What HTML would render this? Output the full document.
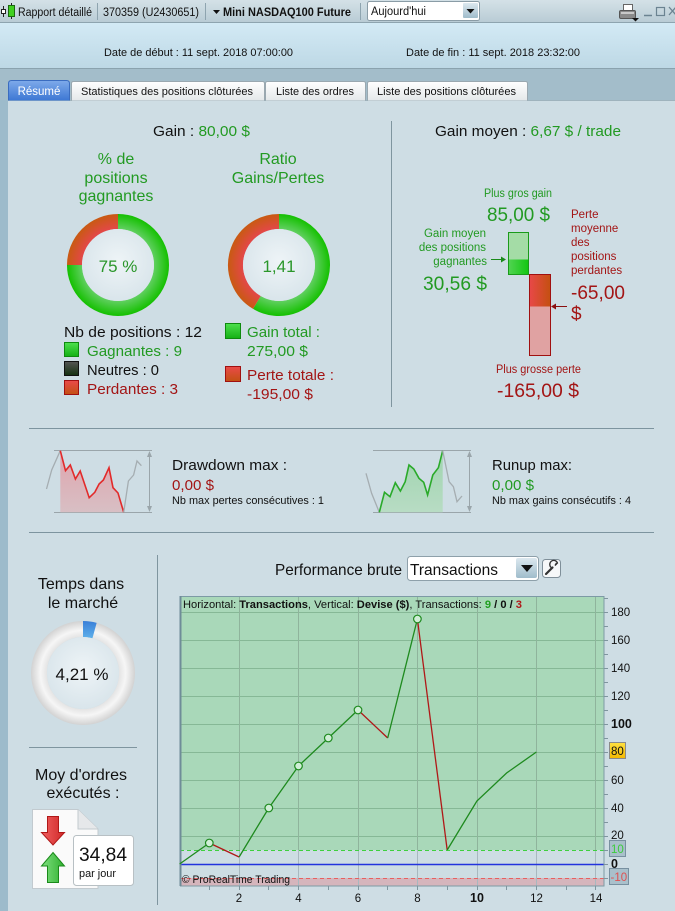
<!DOCTYPE html>
<html><head><meta charset="utf-8"><style>
html,body{margin:0;padding:0;width:675px;height:911px;overflow:hidden;background:#cedde4}
svg{display:block;font-family:"Liberation Sans",Arial,sans-serif}
</style></head><body>
<svg width="675" height="911" viewBox="0 0 675 911" xmlns="http://www.w3.org/2000/svg">
<defs>
 <linearGradient id="tb" x1="0" y1="0" x2="0" y2="1"><stop offset="0" stop-color="#d4e1e7"/><stop offset="1" stop-color="#b9ccd5"/></linearGradient>
 <linearGradient id="hd" x1="0" y1="0" x2="0" y2="1"><stop offset="0" stop-color="#d3eaf5"/><stop offset="1" stop-color="#bdd8e5"/></linearGradient>
 <linearGradient id="tabA" x1="0" y1="0" x2="0" y2="1"><stop offset="0" stop-color="#7eaaea"/><stop offset="1" stop-color="#3d77d4"/></linearGradient>
 <linearGradient id="tabB" x1="0" y1="0" x2="0" y2="1"><stop offset="0" stop-color="#ffffff"/><stop offset="1" stop-color="#e4e8ea"/></linearGradient>
 <linearGradient id="btn" x1="0" y1="0" x2="0" y2="1"><stop offset="0" stop-color="#dce8ef"/><stop offset="1" stop-color="#9fbccb"/></linearGradient>
 <radialGradient id="gg1" gradientUnits="userSpaceOnUse" cx="118" cy="265" r="51"><stop offset="0.7" stop-color="#62d062"/><stop offset="1" stop-color="#14c000"/></radialGradient>
 <radialGradient id="gr1" gradientUnits="userSpaceOnUse" cx="118" cy="265" r="51"><stop offset="0.7" stop-color="#e4474a"/><stop offset="1" stop-color="#c85a12"/></radialGradient>
 <radialGradient id="gg2" gradientUnits="userSpaceOnUse" cx="279" cy="265" r="51"><stop offset="0.7" stop-color="#62d062"/><stop offset="1" stop-color="#14c000"/></radialGradient>
 <radialGradient id="gr2" gradientUnits="userSpaceOnUse" cx="279" cy="265" r="51"><stop offset="0.7" stop-color="#e4474a"/><stop offset="1" stop-color="#c85a12"/></radialGradient>
 <radialGradient id="inner" cx="0.5" cy="0.45" r="0.55"><stop offset="0" stop-color="#eef4f7"/><stop offset="1" stop-color="#d9e5eb"/></radialGradient>
 <radialGradient id="gring" gradientUnits="userSpaceOnUse" cx="83" cy="673" r="52"><stop offset="0.68" stop-color="#e2e2e2"/><stop offset="0.82" stop-color="#f6f6f6"/><stop offset="1" stop-color="#d2d2d2"/></radialGradient>
 <linearGradient id="blue" x1="0" y1="0" x2="0" y2="1"><stop offset="0" stop-color="#3a7fd8"/><stop offset="1" stop-color="#5fb0ea"/></linearGradient>
 <linearGradient id="sqG" x1="0" y1="0" x2="0" y2="1"><stop offset="0" stop-color="#4ee04e"/><stop offset="1" stop-color="#14b014"/></linearGradient>
 <linearGradient id="sqK" x1="0" y1="0" x2="0" y2="1"><stop offset="0" stop-color="#555"/><stop offset="1" stop-color="#14300f"/></linearGradient>
 <linearGradient id="sqR" x1="0" y1="0" x2="0" y2="1"><stop offset="0" stop-color="#ea4a4a"/><stop offset="1" stop-color="#c25012"/></linearGradient>
 <linearGradient id="barG" x1="0" y1="0" x2="1" y2="0"><stop offset="0" stop-color="#52d452"/><stop offset="1" stop-color="#12c612"/></linearGradient>
 <linearGradient id="barR" x1="0" y1="0" x2="1" y2="0"><stop offset="0" stop-color="#e84848"/><stop offset="1" stop-color="#c45010"/></linearGradient>
 <linearGradient id="ddF" x1="0" y1="0" x2="0" y2="1"><stop offset="0" stop-color="#dfa4ad"/><stop offset="1" stop-color="#d8bfc4"/></linearGradient>
 <linearGradient id="ruF" x1="0" y1="0" x2="0" y2="1"><stop offset="0" stop-color="#9ed4ae"/><stop offset="1" stop-color="#b8dcc4"/></linearGradient>
 <linearGradient id="yel" x1="0" y1="0" x2="0" y2="1"><stop offset="0" stop-color="#ffe040"/><stop offset="1" stop-color="#f4b800"/></linearGradient>
 <linearGradient id="arR" x1="0" y1="0" x2="1" y2="0"><stop offset="0" stop-color="#f06060"/><stop offset="1" stop-color="#d02828"/></linearGradient>
 <linearGradient id="arG" x1="0" y1="0" x2="1" y2="0"><stop offset="0" stop-color="#80e080"/><stop offset="1" stop-color="#30b030"/></linearGradient>
</defs>

<!-- backgrounds -->
<rect x="0" y="0" width="675" height="911" fill="#cedde4"/>
<rect x="0" y="0" width="675" height="22" fill="url(#tb)"/>
<line x1="0" y1="22.5" x2="675" y2="22.5" stroke="#8ea4af"/>
<rect x="0" y="23" width="675" height="45" fill="url(#hd)"/>
<line x1="0" y1="68.5" x2="675" y2="68.5" stroke="#8aa2ae"/>
<rect x="0" y="69" width="675" height="31" fill="#a3bdca"/>
<rect x="0" y="100" width="8" height="811" fill="#9dbbcb"/>
<line x1="8" y1="100.5" x2="675" y2="100.5" stroke="#9fb3bd"/>

<!-- toolbar -->
<line x1="3.5" y1="6" x2="3.5" y2="17" stroke="#222"/>
<rect x="1.5" y="9.5" width="4" height="4" fill="#fff" stroke="#222"/>
<line x1="11.5" y1="3" x2="11.5" y2="19" stroke="#222"/>
<rect x="8.5" y="5.5" width="6" height="11" fill="#40d020" stroke="#1a6a10"/>
<text x="18" y="16" font-size="11.5" fill="#111" textLength="74" lengthAdjust="spacingAndGlyphs">Rapport détaillé</text>
<line x1="97.5" y1="3" x2="97.5" y2="20" stroke="#8ea4af"/>
<text x="103" y="16" font-size="11.5" fill="#111" textLength="96" lengthAdjust="spacingAndGlyphs">370359 (U2430651)</text>
<line x1="205.5" y1="3" x2="205.5" y2="20" stroke="#8ea4af"/>
<path d="M213 10 L220 10 L216.5 14 Z" fill="#111"/>
<text x="223" y="16" font-size="11.5" font-weight="bold" fill="#111" textLength="128" lengthAdjust="spacingAndGlyphs">Mini NASDAQ100 Future</text>
<line x1="360.5" y1="3" x2="360.5" y2="20" stroke="#8ea4af"/>
<rect x="367.5" y="1.5" width="112" height="19" rx="2" fill="#fff" stroke="#8a9ca6"/>
<text x="371" y="15" font-size="11.5" fill="#111" textLength="55" lengthAdjust="spacingAndGlyphs">Aujourd'hui</text>
<rect x="463" y="3" width="15" height="15" rx="1" fill="url(#btn)"/>
<path d="M466.5 9 L474.5 9 L470.5 13.5 Z" fill="#111"/>
<!-- printer -->
<rect x="623.5" y="4.5" width="9" height="6" fill="#fff" stroke="#666"/>
<rect x="619.5" y="10.5" width="16" height="8" rx="1.5" fill="#8a8a8a" stroke="#555"/>
<rect x="621" y="12" width="13" height="2" fill="#c8c8c8"/>
<path d="M632 18 L639 18 L635.5 21.5 Z" fill="#111"/>
<line x1="644" y1="15.5" x2="652" y2="15.5" stroke="#6b8391" stroke-width="1.5"/>
<rect x="656.5" y="7.5" width="8" height="8" fill="none" stroke="#6b8391" stroke-width="1.2"/>
<path d="M669 7 L676 15 M676 7 L669 15" stroke="#6b8391" stroke-width="1.3"/>

<!-- header dates -->
<text x="104" y="56" font-size="11" fill="#111" textLength="189" lengthAdjust="spacingAndGlyphs">Date de début : 11 sept. 2018 07:00:00</text>
<text x="406" y="56" font-size="11" fill="#111" textLength="174" lengthAdjust="spacingAndGlyphs">Date de fin : 11 sept. 2018 23:32:00</text>

<!-- tabs -->
<path d="M8.5 100.5 V83.5 Q8.5 80.5 11.5 80.5 H66.5 Q69.5 80.5 69.5 83.5 V100.5" fill="url(#tabA)" stroke="#3a6cc0"/>
<text x="39" y="95" font-size="11.5" fill="#fff" text-anchor="middle">Résumé</text>
<path d="M71.5 100.5 V83.5 Q71.5 81.5 73.5 81.5 H262.5 Q264.5 81.5 264.5 83.5 V100.5" fill="url(#tabB)" stroke="#9aa8b0"/>
<text x="81" y="95" font-size="11" fill="#111" textLength="172" lengthAdjust="spacingAndGlyphs">Statistiques des positions clôturées</text>
<path d="M265.5 100.5 V83.5 Q265.5 81.5 267.5 81.5 H363.5 Q365.5 81.5 365.5 83.5 V100.5" fill="url(#tabB)" stroke="#9aa8b0"/>
<text x="276" y="95" font-size="11" fill="#111" textLength="78" lengthAdjust="spacingAndGlyphs">Liste des ordres</text>
<path d="M367.5 100.5 V83.5 Q367.5 81.5 369.5 81.5 H525.5 Q527.5 81.5 527.5 83.5 V100.5" fill="url(#tabB)" stroke="#9aa8b0"/>
<text x="377" y="95" font-size="11" fill="#111" textLength="139" lengthAdjust="spacingAndGlyphs">Liste des positions clôturées</text>

<!-- ===== Summary left ===== -->
<text x="153" y="136" font-size="15" fill="#111" textLength="97" lengthAdjust="spacingAndGlyphs">Gain : <tspan fill="#229a22">80,00 $</tspan></text>
<g font-size="16" fill="#229a22" text-anchor="middle">
 <text x="116" y="164">% de</text>
 <text x="116" y="183">positions</text>
 <text x="116" y="201">gagnantes</text>
 <text x="278" y="164">Ratio</text>
 <text x="278" y="183">Gains/Pertes</text>
</g>
<!-- donut 1 -->
<path d="M118 221.5 A43.5 43.5 0 1 1 74.5 265" fill="none" stroke="url(#gg1)" stroke-width="15"/>
<path d="M74.5 265 A43.5 43.5 0 0 1 118 221.5" fill="none" stroke="url(#gr1)" stroke-width="15"/>
<circle cx="118" cy="265" r="36" fill="url(#inner)"/>
<text x="118" y="272" font-size="17" fill="#2a962a" text-anchor="middle">75 %</text>
<!-- donut 2 -->
<path d="M279 221.5 A43.5 43.5 0 1 1 256.86 302.45" fill="none" stroke="url(#gg2)" stroke-width="15"/>
<path d="M256.86 302.45 A43.5 43.5 0 0 1 279 221.5" fill="none" stroke="url(#gr2)" stroke-width="15"/>
<circle cx="279" cy="265" r="36" fill="url(#inner)"/>
<text x="279" y="272" font-size="17" fill="#2a962a" text-anchor="middle">1,41</text>

<text x="64" y="337" font-size="15" fill="#111" textLength="138" lengthAdjust="spacingAndGlyphs">Nb de positions : 12</text>
<rect x="64.5" y="342.5" width="14" height="14" fill="url(#sqG)" stroke="#0e8a0e"/>
<text x="87" y="356" font-size="15" fill="#229a22" textLength="95" lengthAdjust="spacingAndGlyphs">Gagnantes : 9</text>
<rect x="64.5" y="361.5" width="14" height="14" fill="url(#sqK)" stroke="#111"/>
<text x="87" y="375" font-size="15" fill="#111" textLength="72" lengthAdjust="spacingAndGlyphs">Neutres : 0</text>
<rect x="64.5" y="380.5" width="14" height="14" fill="url(#sqR)" stroke="#a01010"/>
<text x="87" y="394" font-size="15" fill="#a31515" textLength="91" lengthAdjust="spacingAndGlyphs">Perdantes : 3</text>

<rect x="225.5" y="323.5" width="15" height="15" fill="url(#sqG)" stroke="#0e8a0e"/>
<text x="247" y="337" font-size="15" fill="#229a22" textLength="73" lengthAdjust="spacingAndGlyphs">Gain total :</text>
<text x="247" y="356" font-size="15" fill="#229a22" textLength="61" lengthAdjust="spacingAndGlyphs">275,00 $</text>
<rect x="225.5" y="366.5" width="15" height="15" fill="url(#sqR)" stroke="#a01010"/>
<text x="247" y="380" font-size="15" fill="#a31515" textLength="87" lengthAdjust="spacingAndGlyphs">Perte totale :</text>
<text x="247" y="399" font-size="15" fill="#a31515" textLength="66" lengthAdjust="spacingAndGlyphs">-195,00 $</text>

<line x1="391.5" y1="121" x2="391.5" y2="407" stroke="#7f959f"/>

<!-- ===== Summary right ===== -->
<text x="435" y="136" font-size="15" fill="#111" textLength="186" lengthAdjust="spacingAndGlyphs">Gain moyen : <tspan fill="#229a22">6,67 $ / trade</tspan></text>
<text x="484" y="197" font-size="11.5" fill="#229a22" textLength="68" lengthAdjust="spacingAndGlyphs">Plus gros gain</text>
<text x="487" y="221" font-size="19" fill="#229a22" textLength="63" lengthAdjust="spacingAndGlyphs">85,00 $</text>
<g font-size="11.5" fill="#229a22" text-anchor="end">
 <text x="486" y="237">Gain moyen</text>
 <text x="486" y="251">des positions</text>
 <text x="487" y="265">gagnantes</text>
</g>
<text x="423" y="290" font-size="19" fill="#229a22" textLength="64" lengthAdjust="spacingAndGlyphs">30,56 $</text>
<line x1="491" y1="259.5" x2="503" y2="259.5" stroke="#1a8a1a"/>
<path d="M506 259.5 L501 256.5 L501 262.5 Z" fill="#1a8a1a"/>

<rect x="508.5" y="232.5" width="20" height="27" fill="#a4dca6"/>
<rect x="508.5" y="259.5" width="20" height="15" fill="url(#barG)"/>
<rect x="508.5" y="232.5" width="20" height="42" fill="none" stroke="#1a9a1a"/>
<rect x="529.5" y="274.5" width="21" height="32" fill="url(#barR)"/>
<rect x="529.5" y="306.5" width="21" height="49" fill="#e0a2a2"/>
<rect x="529.5" y="274.5" width="21" height="81" fill="none" stroke="#a01010"/>
<line x1="554" y1="306.5" x2="567" y2="306.5" stroke="#8a1010"/>
<path d="M551 306.5 L556 303.5 L556 309.5 Z" fill="#8a1010"/>

<g font-size="11.5" fill="#a31515">
 <text x="571" y="218">Perte</text>
 <text x="571" y="232">moyenne</text>
 <text x="571" y="246">des</text>
 <text x="571" y="260">positions</text>
 <text x="571" y="274">perdantes</text>
</g>
<text x="571" y="299" font-size="19" fill="#a31515" textLength="54" lengthAdjust="spacingAndGlyphs">-65,00</text>
<text x="571" y="320" font-size="19" fill="#a31515">$</text>
<text x="496" y="373" font-size="11.5" fill="#a31515" textLength="85" lengthAdjust="spacingAndGlyphs">Plus grosse perte</text>
<text x="497" y="397" font-size="19" fill="#a31515" textLength="82" lengthAdjust="spacingAndGlyphs">-165,00 $</text>

<!-- ===== Drawdown / Runup ===== -->
<line x1="29" y1="428.5" x2="654" y2="428.5" stroke="#7d949f"/>
<line x1="29" y1="532.5" x2="654" y2="532.5" stroke="#7d949f"/>
<!-- drawdown mini -->
<line x1="54" y1="450.5" x2="152" y2="450.5" stroke="#9aa5aa"/>
<line x1="54" y1="512.5" x2="152" y2="512.5" stroke="#9aa5aa"/>
<path d="M60.3 450.7 L65.5 470.7 L70.3 465 L75.4 479 L80.2 471 L89.2 497.7 L94.8 492.3 L99.1 484 L103.4 480 L109 467.7 L113 487.7 L118 493 L123.7 512.3 L60.3 512.3 Z" fill="url(#ddF)"/>
<polyline points="46.5,489 51.7,470 60.3,450.7" fill="none" stroke="#a5adb1" stroke-width="1.3"/>
<polyline points="60.3,450.7 65.5,470.7 70.3,465 75.4,479 80.2,471 89.2,497.7 94.8,492.3 99.1,484 103.4,480 109,467.7 113,487.7 118,493 123.7,512.3" fill="none" stroke="#e22a2a" stroke-width="1.6"/>
<polyline points="123.7,512.3 128.4,481 133.6,475 137,461 141.4,465.7" fill="none" stroke="#a5adb1" stroke-width="1.3"/>
<line x1="149.5" y1="453" x2="149.5" y2="510" stroke="#9aa5aa"/>
<path d="M149.5 451 L147 457 L152 457 Z M149.5 512 L147 506 L152 506 Z" fill="#9aa5aa"/>
<text x="172" y="470" font-size="15" fill="#111" textLength="115" lengthAdjust="spacingAndGlyphs">Drawdown max :</text>
<text x="172" y="490" font-size="15" fill="#a31515" textLength="42" lengthAdjust="spacingAndGlyphs">0,00 $</text>
<text x="172" y="504" font-size="11" fill="#111" textLength="152" lengthAdjust="spacingAndGlyphs">Nb max pertes consécutives : 1</text>
<!-- runup mini -->
<line x1="373" y1="450.5" x2="471" y2="450.5" stroke="#9aa5aa"/>
<line x1="373" y1="512.5" x2="471" y2="512.5" stroke="#9aa5aa"/>
<path d="M379.3 512.3 L384.5 492.3 L390 496.7 L395.3 482.7 L400.4 491 L405.2 481.7 L409 465 L413.8 469 L419 478.3 L423.7 482.3 L427.6 495 L432.8 475 L438.4 467.7 L442.7 450.7 L442.7 512.3 Z" fill="url(#ruF)"/>
<polyline points="366,473.3 371.6,493.3 379.3,512.3" fill="none" stroke="#a5adb1" stroke-width="1.3"/>
<polyline points="379.3,512.3 384.5,492.3 390,496.7 395.3,482.7 400.4,491 405.2,481.7 409,465 413.8,469 419,478.3 423.7,482.3 427.6,495 432.8,475 438.4,467.7 442.7,450.7" fill="none" stroke="#2aaa2a" stroke-width="1.6"/>
<polyline points="442.7,450.7 449.1,481.7 453.4,486.7 457,501.7 462,496" fill="none" stroke="#a5adb1" stroke-width="1.3"/>
<line x1="469.5" y1="453" x2="469.5" y2="510" stroke="#9aa5aa"/>
<path d="M469.5 451 L467 457 L472 457 Z M469.5 512 L467 506 L472 506 Z" fill="#9aa5aa"/>
<text x="492" y="470" font-size="15" fill="#111" textLength="80" lengthAdjust="spacingAndGlyphs">Runup max:</text>
<text x="492" y="490" font-size="15" fill="#229a22" textLength="42" lengthAdjust="spacingAndGlyphs">0,00 $</text>
<text x="492" y="504" font-size="11" fill="#111" textLength="139" lengthAdjust="spacingAndGlyphs">Nb max gains consécutifs : 4</text>

<!-- ===== bottom left ===== -->
<line x1="157.5" y1="555" x2="157.5" y2="905" stroke="#7f959f"/>
<text x="81" y="589" font-size="16" fill="#111" text-anchor="middle">Temps dans</text>
<text x="83" y="608" font-size="16" fill="#111" text-anchor="middle">le marché</text>
<circle cx="83" cy="673" r="44" fill="none" stroke="url(#gring)" stroke-width="16"/>
<path d="M83 621 A52 52 0 0 1 96.65 622.83 L92.45 638.27 A36 36 0 0 0 83 637 Z" fill="url(#blue)"/>
<circle cx="83" cy="673" r="36" fill="url(#inner)"/>
<text x="82" y="680" font-size="17" fill="#111" text-anchor="middle">4,21 %</text>
<line x1="29" y1="747.5" x2="137" y2="747.5" stroke="#7f959f"/>
<text x="81" y="780" font-size="16" fill="#111" text-anchor="middle">Moy d'ordres</text>
<text x="83" y="798" font-size="16" fill="#111" text-anchor="middle">exécutés :</text>
<!-- document -->
<path d="M32.5 809.5 H78 L98 829 V888.5 H32.5 Z" fill="#fafafa" stroke="#c2cacf"/>
<path d="M78 809.5 V829 H98" fill="#e6e8ea" stroke="#c2cacf"/>
<path d="M47.5 816.5 H58.5 V832.5 H64.5 L53 845 L41.5 832.5 H47.5 Z" fill="url(#arR)" stroke="#b01818"/>
<path d="M53 852.5 L64.5 866 H58.5 V882.5 H47.5 V866 H41.5 Z" fill="url(#arG)" stroke="#1a8a1a"/>
<rect x="73.5" y="835.5" width="60" height="50" rx="3" fill="#fff" stroke="#b8c0c4"/>
<text x="79" y="861" font-size="19" fill="#111" textLength="48" lengthAdjust="spacingAndGlyphs">34,84</text>
<text x="79" y="877" font-size="11" fill="#111" textLength="37" lengthAdjust="spacingAndGlyphs">par jour</text>

<!-- ===== chart header ===== -->
<text x="275" y="575" font-size="16" fill="#111" textLength="127" lengthAdjust="spacingAndGlyphs">Performance brute</text>
<rect x="407.5" y="556.5" width="131" height="24" rx="3" fill="#fff" stroke="#8ea0aa"/>
<text x="410" y="575" font-size="16" fill="#111" textLength="88" lengthAdjust="spacingAndGlyphs">Transactions</text>
<rect x="516" y="558" width="21" height="20" rx="2" fill="url(#btn)"/>
<path d="M521 565 L533 565 L527 572 Z" fill="#111"/>
<rect x="542.5" y="559.5" width="18" height="18" rx="3" fill="#f6f8f9" stroke="#7f8f99"/>
<path d="M546 574 L552.5 567.5" stroke="#333" stroke-width="2.2" stroke-linecap="round"/>
<path d="M552 568 A4 4 0 1 1 557.5 563 L555 565.5 L556.5 563" fill="none" stroke="#333" stroke-width="1.3"/>

<!-- ===== chart plot ===== -->
<rect x="180" y="596" width="424" height="254" fill="#a9d8b9"/>
<rect x="180" y="850" width="424" height="28" fill="#cddde3"/>
<rect x="180" y="878" width="424" height="8" fill="#d5b5bc"/>
<g stroke="#86b896" stroke-width="1">
 <line x1="180" y1="836.5" x2="604" y2="836.5"/>
 <line x1="180" y1="808.5" x2="604" y2="808.5"/>
 <line x1="180" y1="780.5" x2="604" y2="780.5"/>
 <line x1="180" y1="752.5" x2="604" y2="752.5"/>
 <line x1="180" y1="724.5" x2="604" y2="724.5"/>
 <line x1="180" y1="696.5" x2="604" y2="696.5"/>
 <line x1="180" y1="668.5" x2="604" y2="668.5"/>
 <line x1="180" y1="640.5" x2="604" y2="640.5"/>
 <line x1="180" y1="612.5" x2="604" y2="612.5"/>
</g>
<g stroke="#8fb49c" stroke-width="1">
 <line x1="239.5" y1="596" x2="239.5" y2="850"/>
 <line x1="298.5" y1="596" x2="298.5" y2="850"/>
 <line x1="358.5" y1="596" x2="358.5" y2="850"/>
 <line x1="417.5" y1="596" x2="417.5" y2="850"/>
 <line x1="477.5" y1="596" x2="477.5" y2="850"/>
 <line x1="536.5" y1="596" x2="536.5" y2="850"/>
 <line x1="595.5" y1="596" x2="595.5" y2="850"/>
</g>
<g stroke="#a8b8bf" stroke-width="1">
 <line x1="239.5" y1="850" x2="239.5" y2="886"/>
 <line x1="298.5" y1="850" x2="298.5" y2="886"/>
 <line x1="358.5" y1="850" x2="358.5" y2="886"/>
 <line x1="417.5" y1="850" x2="417.5" y2="886"/>
 <line x1="477.5" y1="850" x2="477.5" y2="886"/>
 <line x1="536.5" y1="850" x2="536.5" y2="886"/>
 <line x1="595.5" y1="850" x2="595.5" y2="886"/>
</g>
<line x1="180" y1="850.5" x2="604" y2="850.5" stroke="#3ed03e" stroke-dasharray="4 3"/>
<line x1="180" y1="878.5" x2="604" y2="878.5" stroke="#e86060" stroke-dasharray="4 3"/>
<line x1="180" y1="864.5" x2="604" y2="864.5" stroke="#2233dd" stroke-width="1.4"/>
<rect x="180.5" y="596.5" width="423.5" height="289.5" fill="none" stroke="#7d9aa5"/>
<line x1="180.5" y1="596" x2="180.5" y2="886" stroke="#6f8c98" stroke-width="2"/>

<!-- data -->
<g fill="none" stroke-width="1.3">
 <polyline points="179.6,864 209.3,843" stroke="#1e8a1e"/>
 <polyline points="209.3,843 239.1,857" stroke="#b01818"/>
 <polyline points="239.1,857 268.8,808 298.5,766 328.3,738 358,710" stroke="#1e8a1e"/>
 <polyline points="358,710 387.7,738" stroke="#b01818"/>
 <polyline points="387.7,738 417.4,619" stroke="#1e8a1e"/>
 <polyline points="417.4,619 447.2,850" stroke="#b01818"/>
 <polyline points="447.2,850 476.9,801 506.6,773 536.4,752" stroke="#1e8a1e"/>
</g>
<g fill="#cfeed6" stroke="#1e8a1e" stroke-width="1.2">
 <circle cx="209.3" cy="843" r="3.8"/>
 <circle cx="268.8" cy="808" r="3.8"/>
 <circle cx="298.5" cy="766" r="3.8"/>
 <circle cx="328.3" cy="738" r="3.8"/>
 <circle cx="358" cy="710" r="3.8"/>
 <circle cx="417.4" cy="619" r="3.8"/>
</g>

<text x="183" y="608" font-size="11" fill="#111" textLength="339" lengthAdjust="spacingAndGlyphs">Horizontal: <tspan font-weight="bold">Transactions</tspan>, Vertical: <tspan font-weight="bold">Devise ($)</tspan>, Transactions: <tspan font-weight="bold" fill="#22a022">9</tspan><tspan font-weight="bold"> / 0 / </tspan><tspan font-weight="bold" fill="#b01818">3</tspan></text>
<text x="182" y="883" font-size="11" fill="#111" textLength="108" lengthAdjust="spacingAndGlyphs">© ProRealTime Trading</text>

<!-- y axis -->
<g stroke="#7f959f" stroke-width="1">
 <line x1="604" y1="598.5" x2="608" y2="598.5"/>
 <line x1="604" y1="612.5" x2="608" y2="612.5"/>
 <line x1="604" y1="626.5" x2="608" y2="626.5"/>
 <line x1="604" y1="640.5" x2="608" y2="640.5"/>
 <line x1="604" y1="654.5" x2="608" y2="654.5"/>
 <line x1="604" y1="668.5" x2="608" y2="668.5"/>
 <line x1="604" y1="682.5" x2="608" y2="682.5"/>
 <line x1="604" y1="696.5" x2="608" y2="696.5"/>
 <line x1="604" y1="710.5" x2="608" y2="710.5"/>
 <line x1="604" y1="724.5" x2="608" y2="724.5"/>
 <line x1="604" y1="738.5" x2="608" y2="738.5"/>
 <line x1="604" y1="752.5" x2="608" y2="752.5"/>
 <line x1="604" y1="766.5" x2="608" y2="766.5"/>
 <line x1="604" y1="780.5" x2="608" y2="780.5"/>
 <line x1="604" y1="794.5" x2="608" y2="794.5"/>
 <line x1="604" y1="808.5" x2="608" y2="808.5"/>
 <line x1="604" y1="822.5" x2="608" y2="822.5"/>
 <line x1="604" y1="836.5" x2="608" y2="836.5"/>
 <line x1="604" y1="850.5" x2="608" y2="850.5"/>
 <line x1="604" y1="864.5" x2="608" y2="864.5"/>
 <line x1="604" y1="878.5" x2="608" y2="878.5"/>
</g>
<g font-size="11.5" fill="#111">
 <text x="611" y="616">180</text>
 <text x="611" y="644">160</text>
 <text x="611" y="672">140</text>
 <text x="611" y="700">120</text>
 <text x="611" y="728" font-weight="bold" font-size="12.5">100</text>
 <text x="611" y="784">60</text>
 <text x="611" y="812">40</text>
 <text x="611" y="839">20</text>
 <text x="611" y="868" font-weight="bold" font-size="12.5">0</text>
</g>
<rect x="609.5" y="742.5" width="16" height="16" fill="url(#yel)" stroke="#8a8a8a"/>
<text x="611" y="755" font-size="11.5" fill="#111">80</text>
<rect x="609.5" y="840.5" width="16" height="16" fill="#a9c0cb" stroke="#7890a0"/>
<text x="611" y="853" font-size="11.5" fill="#3ccc3c">10</text>
<rect x="609.5" y="868.5" width="19" height="16" fill="#a9c0cb" stroke="#7890a0"/>
<text x="610.5" y="881" font-size="11.5" fill="#e05050">-10</text>

<!-- x axis -->
<g stroke="#7f959f">
 <line x1="209.5" y1="886" x2="209.5" y2="890"/>
 <line x1="239.5" y1="886" x2="239.5" y2="890"/>
 <line x1="268.5" y1="886" x2="268.5" y2="890"/>
 <line x1="298.5" y1="886" x2="298.5" y2="890"/>
 <line x1="328.5" y1="886" x2="328.5" y2="890"/>
 <line x1="358.5" y1="886" x2="358.5" y2="890"/>
 <line x1="387.5" y1="886" x2="387.5" y2="890"/>
 <line x1="417.5" y1="886" x2="417.5" y2="890"/>
 <line x1="447.5" y1="886" x2="447.5" y2="890"/>
 <line x1="477.5" y1="886" x2="477.5" y2="890"/>
 <line x1="506.5" y1="886" x2="506.5" y2="890"/>
 <line x1="536.5" y1="886" x2="536.5" y2="890"/>
 <line x1="566.5" y1="886" x2="566.5" y2="890"/>
 <line x1="595.5" y1="886" x2="595.5" y2="890"/>
</g>
<g font-size="11.5" fill="#111" text-anchor="middle">
 <text x="239" y="902">2</text>
 <text x="298.5" y="902">4</text>
 <text x="358" y="902">6</text>
 <text x="417.5" y="902">8</text>
 <text x="477" y="902" font-weight="bold" font-size="12.5">10</text>
 <text x="536.5" y="902">12</text>
 <text x="596" y="902">14</text>
</g>
</svg>
</body></html>
